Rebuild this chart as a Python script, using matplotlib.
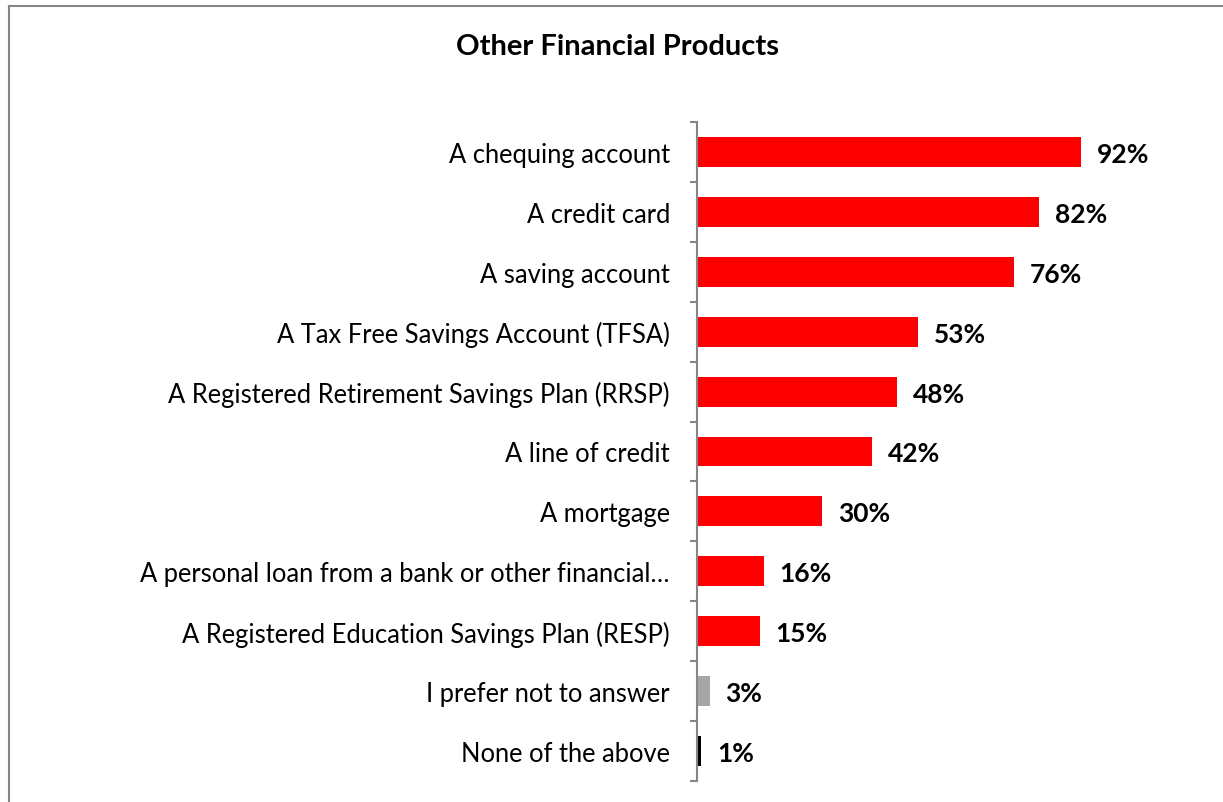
import matplotlib
matplotlib.use("Agg")
import matplotlib.pyplot as plt
from matplotlib.lines import Line2D
import numpy as np

categories = [
    "A chequing account",
    "A credit card",
    "A saving account",
    "A Tax Free Savings Account (TFSA)",
    "A Registered Retirement Savings Plan (RRSP)",
    "A line of credit",
    "A mortgage",
    "A personal loan from a bank or other financial\u2026",
    "A Registered Education Savings Plan (RESP)",
    "I prefer not to answer",
    "None of the above",
]
values = [92, 82, 76, 53, 48, 42, 30, 16, 15, 3, 1]
colors = ["#FF0000"] * 9 + ["#A6A6A6", "#000000"]

plt.rcParams['font.family'] = ['Lato', 'DejaVu Sans']

fig = plt.figure(figsize=(12.23, 8.03), dpi=100)
W, H = 1223, 803
ax = fig.add_axes([697 / W, 1 - 782 / H, (1114 - 697) / W, (782 - 123) / H])

n = len(categories)
y = np.arange(n)
ax.barh(y, values, height=0.5, color=colors)
ax.set_xlim(0, 100)
ax.set_ylim(n - 0.5, -0.5)

for yi, v in zip(y, values):
    ax.text(v + 3.8, yi, f"{v}%", va="center_baseline", ha="left", fontsize=19,
            fontweight="bold", color="black")

ax.set_yticks(y)
ax.set_yticklabels(categories, fontsize=18.4, color="black", va="center_baseline")
ax.tick_params(axis="y", which="major", length=0, pad=19.5)
ax.set_yticks(np.arange(-0.5, n, 1), minor=True)
ax.tick_params(axis="y", which="minor", length=5, width=1.5, color="#868686")
ax.set_xticks([])
for s in ["top", "right", "bottom"]:
    ax.spines[s].set_visible(False)
ax.spines["left"].set_color("#868686")
ax.spines["left"].set_linewidth(1.5)

fig.text(617 / W, 1 - 47 / H, "Other Financial Products", ha="center", va="center",
         fontsize=21, fontweight="bold")

# chart border (left and top visible)
fig.add_artist(Line2D([8.5 / W, 8.5 / W], [0, 1 - 6.5 / H], transform=fig.transFigure,
                      color="#868686", lw=1.5))
fig.add_artist(Line2D([8.5 / W, 1], [1 - 6.5 / H, 1 - 6.5 / H], transform=fig.transFigure,
                      color="#868686", lw=1.5))

fig.savefig("out.png", dpi=100)
